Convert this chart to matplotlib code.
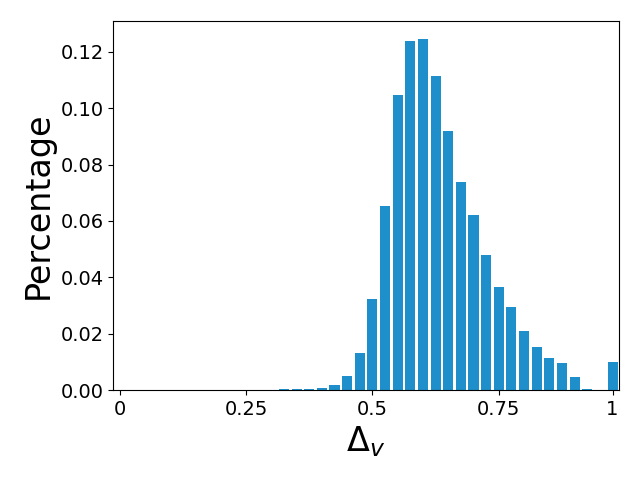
import matplotlib
matplotlib.use('Agg')
import matplotlib.pyplot as plt
import numpy as np

# share of samples per bin (40 bins over [0, 1])
percentage = [0, 0, 0, 0, 0, 0, 0, 0, 0, 0,
              0, 0, 0, 0.0003, 0.0003, 0.0003, 0.0008, 0.0019, 0.0051, 0.0132,
              0.0324, 0.0654, 0.1048, 0.1240, 0.1247, 0.1116, 0.0921, 0.0739, 0.0622, 0.0480,
              0.0366, 0.0295, 0.0209, 0.0153, 0.0114, 0.0097, 0.0046, 0.0003, 0, 0.0100]
tick_pos = [0, 10, 20, 30, 39]
tick_labels = ['0', '0.25', '0.5', '0.75', '1']

x = np.arange(len(percentage))

fig, ax = plt.subplots(figsize=(6.4, 4.8), dpi=100)
ax.bar(x, percentage, width=0.8, color='#1f8fcc')
ax.set_xlim(-0.5, 39.5)
ax.set_xticks(tick_pos)
ax.set_xticklabels(tick_labels)
ax.tick_params(labelsize=14)
ax.set_xlabel(r'$\Delta_v$', fontsize=24)
ax.set_ylabel('Percentage', fontsize=24)
plt.subplots_adjust(left=0.177, right=0.967, top=0.956, bottom=0.1875)
plt.savefig('out.png')
